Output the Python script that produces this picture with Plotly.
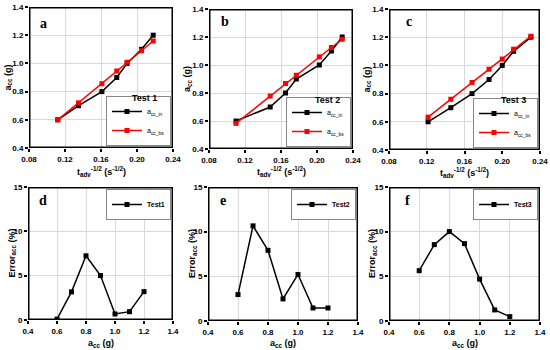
import plotly.graph_objects as go

# ---- data ----
x_a = [0.112, 0.135, 0.161, 0.1775, 0.189, 0.205, 0.218]
in_a = [0.60, 0.70, 0.80, 0.90, 1.00, 1.10, 1.20]
bs_a = [0.60, 0.72, 0.856, 0.946, 1.008, 1.09, 1.159]

x_b = [0.110, 0.148, 0.165, 0.177, 0.2026, 0.216, 0.228]
in_b = [0.60, 0.70, 0.80, 0.90, 1.00, 1.10, 1.20]
bs_b = [0.583, 0.778, 0.868, 0.927, 1.058, 1.125, 1.184]

x_c = [0.1214, 0.1455, 0.168, 0.186, 0.200, 0.212, 0.2304]
in_c = [0.60, 0.70, 0.80, 0.90, 1.00, 1.10, 1.20]
bs_c = [0.633, 0.76, 0.879, 0.973, 1.045, 1.115, 1.207]

acc = [0.6, 0.7, 0.8, 0.9, 1.0, 1.1, 1.2]
err1 = [0.1, 3.17, 7.24, 5.01, 0.68, 0.94, 3.2]
err2 = [2.96, 10.65, 7.91, 2.47, 5.21, 1.46, 1.46]
err3 = [5.63, 8.55, 10.01, 8.66, 4.69, 1.24, 0.49]

top_x = [x_a, x_b, x_c]
top_in = [in_a, in_b, in_c]
top_bs = [bs_a, bs_b, bs_c]
top_tests = ["Test 1", "Test 2", "Test 3"]
bot_err = [err1, err2, err3]
bot_names = ["Test1", "Test2", "Test3"]
labels = ["a", "b", "c", "d", "e", "f"]

W, H = 550, 350
def px(x):
    return x / W
def py(y):
    return 1 - y / H

# plot areas in pixels: (left, right, top, bottom)
boxes = [(29, 173, 7, 148), (209, 353, 9, 149), (389, 540, 9, 150),
         (28, 173, 187, 320), (208, 358, 187, 321), (389, 540, 187, 321)]
label_pos = [(43, 23), (225, 22), (409, 22), (43, 200), (223, 200), (407, 200)]
test_pos = [(144, 98), (327, 100), (513, 100)]
leg_anchor = [(171, 146), (351, 147), (538, 148), (171, 189), (356, 189), (538, 189)]
xt_y = [171, 171, 172, 343, 343, 343]
yt_x = [8, 187, 367, 12, 192, 372]

fig = go.Figure()
FAM = "Arial, Liberation Sans, sans-serif"
tickfont = dict(family=FAM, size=8, color="black")
titlefont = dict(family=FAM, size=9, color="black")

annotations = []
axes = {}
for i in range(6):
    n = i + 1
    sfx = "" if n == 1 else str(n)
    xa, ya, lg = "x" + sfx, "y" + sfx, "legend" + sfx
    l, r, t, b = boxes[i]
    if i < 3:
        xr, xdt, xfmt = [0.08, 0.24], 0.04, ".2f"
        yr, ydt, yfmt = [0.4, 1.4], 0.2, ".1f"
    else:
        xr, xdt, xfmt = [0.4, 1.4], 0.2, ".1f"
        yr, ydt, yfmt = [0, 15], 5, ".0f"
    # plot-area frame, built from the axis ranges
    fig.add_trace(go.Scatter(x=[xr[0], xr[1], xr[1], xr[0], xr[0]],
                             y=[yr[0], yr[0], yr[1], yr[1], yr[0]],
                             mode="lines", line=dict(color="black", width=3),
                             showlegend=False, hoverinfo="skip",
                             xaxis=xa, yaxis=ya))
    if i < 3:
        fig.add_trace(go.Scatter(x=top_x[i], y=top_in[i], mode="lines+markers",
                                 name="a<sub>cc_in</sub>", line=dict(color="black", width=1.5),
                                 marker=dict(symbol="square", size=5, color="black"),
                                 xaxis=xa, yaxis=ya, legend=lg))
        fig.add_trace(go.Scatter(x=top_x[i], y=top_bs[i], mode="lines+markers",
                                 name="a<sub>cc_bs</sub>", line=dict(color="red", width=1.5),
                                 marker=dict(symbol="square", size=5, color="red"),
                                 xaxis=xa, yaxis=ya, legend=lg))
        xtitle = "t<sub>adv</sub><sup>-1/2</sup> (s<sup>-1/2</sup>)"
        ytitle = "a<sub>cc</sub> (g)"
        lx, ly = leg_anchor[i]
        legend = dict(x=px(lx), y=py(ly), xanchor="right", yanchor="bottom")
        tx, ty = test_pos[i]
        annotations.append(dict(text="<b>" + top_tests[i] + "</b>", xref="paper", yref="paper",
                                x=px(tx), y=py(ty), xanchor="center", yanchor="middle",
                                showarrow=False, font=dict(family=FAM, size=9, color="black")))
    else:
        fig.add_trace(go.Scatter(x=acc, y=bot_err[i - 3], mode="lines+markers",
                                 name="<b>" + bot_names[i - 3] + "</b>",
                                 line=dict(color="black", width=1.5),
                                 marker=dict(symbol="square", size=5, color="black"),
                                 xaxis=xa, yaxis=ya, legend=lg))
        xtitle = "a<sub>cc</sub> (g)"
        ytitle = "Error<sub>acc</sub> (%)"
        lx, ly = leg_anchor[i]
        legend = dict(x=px(lx), y=py(ly), xanchor="right", yanchor="top")
    legend.update(bgcolor="white", bordercolor="#888", borderwidth=1, tracegroupgap=0,
                  font=dict(family=FAM, size=7, color="black"), itemwidth=30)
    axes["legend" + sfx] = legend
    common = dict(showline=False, mirror=False,
                  ticks="outside", ticklen=3, tickcolor="black", tickwidth=1.5,
                  showgrid=True, gridcolor="#d9d9d9", gridwidth=1, zeroline=False,
                  tickfont=tickfont, tickprefix="<b>", ticksuffix="</b>", automargin=False)
    axes["xaxis" + sfx] = dict(domain=[px(l), px(r)], range=xr, dtick=xdt, tick0=xr[0],
                               tickformat=xfmt, anchor=ya, **common)
    axes["yaxis" + sfx] = dict(domain=[py(b), py(t)], range=yr, dtick=ydt, tick0=yr[0],
                               tickformat=yfmt, anchor=xa, **common)
    annotations.append(dict(text="<b>" + xtitle + "</b>", xref="paper", yref="paper",
                            x=px((l + r) / 2), y=py(xt_y[i]), xanchor="center", yanchor="middle",
                            showarrow=False, font=titlefont))
    annotations.append(dict(text="<b>" + ytitle + "</b>", xref="paper", yref="paper",
                            x=px(yt_x[i]), y=py((t + b) / 2), xanchor="center", yanchor="middle",
                            textangle=-90, showarrow=False, font=titlefont))
    lpx, lpy = label_pos[i]
    annotations.append(dict(text="<b>" + labels[i] + "</b>", xref="paper", yref="paper",
                            x=px(lpx), y=py(lpy), xanchor="center", yanchor="middle",
                            showarrow=False,
                            font=dict(family="Times New Roman, Liberation Serif, serif", size=14, color="black")))

fig.update_layout(width=W, height=H, margin=dict(l=0, r=0, t=0, b=0, pad=0, autoexpand=False),
                  plot_bgcolor="white", paper_bgcolor="white",
                  annotations=annotations, **axes)
fig.write_html("out.html", config={"displayModeBar": False},
               post_script="document.body.style.margin='0';document.body.style.overflow='hidden';")
